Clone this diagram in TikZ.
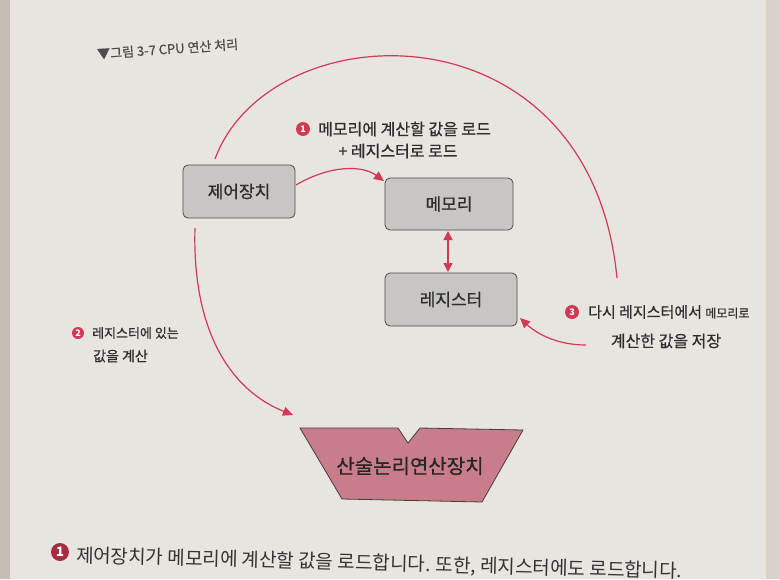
\documentclass[tikz,border=0pt]{standalone}
\usepackage{fontspec}
\setmainfont{Noto Sans CJK KR}
\newfontfamily\medfont{Noto Sans CJK KR}[FakeBold=0.8]
\usetikzlibrary{arrows.meta}
\definecolor{pagebg}{HTML}{E8E5E1}
\definecolor{edgebg}{HTML}{D9D2C8}
\definecolor{arccol}{HTML}{D03A55}
\definecolor{boxfill}{HTML}{C8C6C3}
\definecolor{alufill}{HTML}{C97D8A}
\definecolor{txt}{HTML}{2E2E2E}
\begin{document}
\begin{tikzpicture}[x=1pt,y=-1pt,
  box/.style={draw=black!70, line width=0.8pt, fill=boxfill, rounded corners=5pt, inner sep=0pt, font=\medfont\fontsize{17}{17}\selectfont, text=txt},
  conn/.style={draw=arccol, line width=1.2pt, -{Triangle[length=10pt,width=9pt]}},
  plain/.style={draw=arccol, line width=1.2pt},
  num/.style={circle, fill=arccol, text=white, inner sep=0pt, minimum size=14pt, font=\fontsize{9}{9}\selectfont\bfseries\itshape},
  lbl/.style={text=txt, inner sep=0pt, anchor=west}]
\useasboundingbox (0,0) rectangle (780,579);
\fill[pagebg] (0,0) rectangle (780,579);
\fill[edgebg] (766,0) rectangle (780,579);
\fill[edgebg!90!black] (0,0) rectangle (10,579);

% caption
\node[font=\medfont\fontsize{13}{13}\selectfont, text=black!70, rotate=4, anchor=west, inner sep=0pt] (cap) at (97,54) {▼그림 3-7 CPU 연산 처리};

% boxes
\node[box, minimum width=112pt, minimum height=53pt] (ctrl) at (239,191.5) {제어장치};
\node[box, minimum width=128pt, minimum height=52pt] (mem) at (449,204) {메모리};
\node[box, minimum width=132pt, minimum height=53pt] (reg) at (451,299.5) {레지스터};

% ALU
\draw[draw=black!75, line width=0.8pt, fill=alufill] (300,428) -- (398,428) -- (408,443) -- (420,428) -- (523,430) -- (482,502) -- (342,499) -- cycle;
\node[font=\medfont\fontsize{20}{20}\selectfont, text=black!85, inner sep=0pt] (alu) at (410,466) {산술논리연산장치};

% connectors
\coordinate (c1s) at (296,185);
\coordinate (c1e) at (384,181);
\draw[conn] (c1s) .. controls (330,165) and (362,165) .. (c1e);

\draw[draw=arccol, line width=1.4pt, {Triangle[length=9pt,width=9pt]}-{Triangle[length=9pt,width=9pt]}] (448,231) -- (448,272);

\coordinate (c2s) at (195,228);
\coordinate (c2e) at (293,415);
\draw[conn] (c2s) .. controls (192,330) and (230,390) .. (c2e);

\coordinate (bigs) at (215,159);
\coordinate (bige) at (617,278);
\draw[plain] (bigs) .. controls (270,10) and (590,0) .. (bige);

\coordinate (c3s) at (586,345);
\coordinate (c3e) at (520,318);
\draw[conn] (c3s) .. controls (556,345) and (536,333) .. (c3e);

% labels
\node[num] (n1) at (303,129) {1};
\node[lbl, font=\medfont\fontsize{16}{16}\selectfont] (l1a) at (318,129) {메모리에 계산할 값을 로드};
\node[lbl, anchor=center, font=\medfont\fontsize{16}{16}\selectfont] (l1b) at (398,151) {+ 레지스터로 로드};

\node[num, minimum size=12pt] (n2) at (78,333) {2};
\node[lbl, font=\medfont\fontsize{13}{13}\selectfont] (l2a) at (92,333) {레지스터에 있는};
\node[lbl, font=\medfont\fontsize{14}{14}\selectfont] (l2b) at (93,356) {값을 계산};

\node[num] (n3) at (572,312) {3};
\node[lbl, font=\medfont\fontsize{15}{15}\selectfont] (l3a) at (588,312) {다시 레지스터에서 {\fontsize{12}{12}\selectfont 메모리로}};
\node[lbl, anchor=center, font=\medfont\fontsize{16}{16}\selectfont] (l3b) at (666,341) {계산한 값을 저장};

% running text at the page foot
\node[circle, fill=arccol!80!black, text=white, inner sep=0pt, minimum size=18pt, font=\fontsize{13}{13}\selectfont\bfseries] (b1) at (60,552) {1};
\node[font=\fontsize{19}{19}\selectfont, text=black!80, rotate=-1.5, anchor=west, inner sep=0pt] (foot) at (76,556) {제어장치가 메모리에 계산할 값을 로드합니다. 또한, 레지스터에도 로드합니다.};
\end{tikzpicture}
\end{document}
